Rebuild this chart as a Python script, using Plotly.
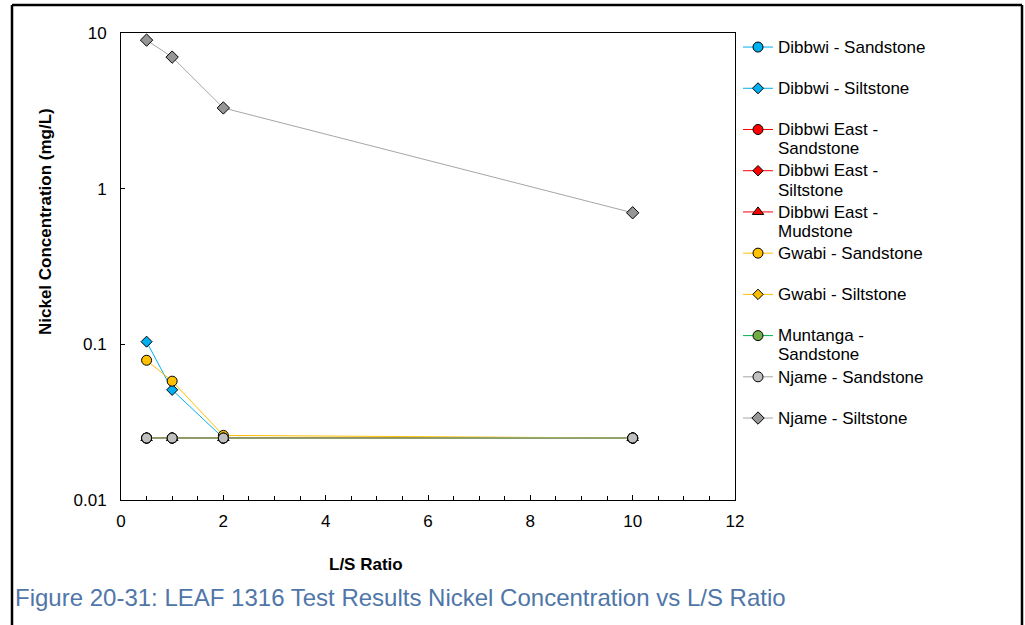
import plotly.graph_objects as go

# L/S ratios tested
ls_ratio = [0.5, 1, 2, 10]

# Nickel concentration (mg/L) per sample series
series_names = [
    "Dibbwi - Sandstone",
    "Dibbwi - Siltstone",
    "Dibbwi East - Sandstone",
    "Dibbwi East - Siltstone",
    "Dibbwi East - Mudstone",
    "Gwabi - Sandstone",
    "Gwabi - Siltstone",
    "Muntanga - Sandstone",
    "Njame - Sandstone",
    "Njame - Siltstone",
]
dibbwi_sandstone = [0.025, 0.025, 0.025, 0.025]
dibbwi_siltstone = [0.104, 0.051, 0.025, 0.025]
dibbwi_east_sandstone = [0.025, 0.025, 0.025, 0.025]
dibbwi_east_siltstone = [0.025, 0.025, 0.025, 0.025]
dibbwi_east_mudstone = [0.025, 0.025, 0.025, 0.025]
gwabi_sandstone = [0.079, 0.058, 0.026, 0.025]
gwabi_siltstone = [0.025, 0.025, 0.025, 0.025]
muntanga_sandstone = [0.025, 0.025, 0.025, 0.025]
njame_sandstone = [0.025, 0.025, 0.025, 0.025]
njame_siltstone = [9.0, 7.0, 3.3, 0.70]

# Legend labels (wrapped as in the original legend)
legend_lines = [
    ["Dibbwi - Sandstone"],
    ["Dibbwi - Siltstone"],
    ["Dibbwi East -", "Sandstone"],
    ["Dibbwi East -", "Siltstone"],
    ["Dibbwi East -", "Mudstone"],
    ["Gwabi - Sandstone"],
    ["Gwabi - Siltstone"],
    ["Muntanga -", "Sandstone"],
    ["Njame - Sandstone"],
    ["Njame - Siltstone"],
]

x_ticks = [0, 2, 4, 6, 8, 10, 12]
y_ticks = [0.01, 0.1, 1, 10]
y_tick_labels = ["0.01", "0.1", "1", "10"]

values = [
    dibbwi_sandstone, dibbwi_siltstone, dibbwi_east_sandstone,
    dibbwi_east_siltstone, dibbwi_east_mudstone, gwabi_sandstone,
    gwabi_siltstone, muntanga_sandstone, njame_sandstone, njame_siltstone,
]
styles = [
    dict(line="#00B0F0", fill="#00B0F0", symbol="circle", size=10),
    dict(line="#00B0F0", fill="#00B0F0", symbol="diamond", size=8.5),
    dict(line="#FF0000", fill="#FF0000", symbol="circle", size=10),
    dict(line="#FF0000", fill="#FF0000", symbol="diamond", size=8),
    dict(line="#FF0000", fill="#FF0000", symbol="triangle-up", size=10),
    dict(line="#FFC000", fill="#FFC000", symbol="circle", size=10),
    dict(line="#FFC000", fill="#FFC000", symbol="diamond", size=8),
    dict(line="#00B050", fill="#70AD47", symbol="circle", size=10),
    dict(line="#A6A6A6", fill="#C0C0C0", symbol="circle", size=10),
    dict(line="#A6A6A6", fill="#969696", symbol="diamond", size=9.5),
]

FONT = "Liberation Sans, Arial, sans-serif"
TEXT_PX = 17


def legend_label(lines):
    parts = [f'<span style="font-size:{TEXT_PX}px">{t}</span>' for t in lines]
    if len(parts) == 1:
        parts.append("\u00a0")
    return "<br>".join(parts)


fig = go.Figure()
for name, lines, ys, st in zip(series_names, legend_lines, values, styles):
    fig.add_trace(go.Scatter(
        x=ls_ratio, y=ys, name=legend_label(lines),
        mode="lines+markers",
        line=dict(color=st["line"], width=1),
        marker=dict(symbol=st["symbol"], size=st["size"], color=st["fill"],
                    line=dict(color="#000000", width=1)),
    ))

W, H = 1025, 625
L, R, T, B = 121, 735, 33, 500


def px_x(px):
    return (px - L) / (R - L)


def px_y(py):
    return (B - py) / (B - T)


fig.update_layout(
    width=W, height=H,
    margin=dict(l=L, r=W - R, t=T, b=H - B, pad=0),
    paper_bgcolor="white", plot_bgcolor="white",
    font=dict(family=FONT, size=TEXT_PX, color="#000000"),
    showlegend=True,
    legend=dict(
        x=px_x(738), y=px_y(31), xanchor="left", yanchor="top",
        font=dict(family=FONT, size=14.7, color="#000000"),
        valign="top", bgcolor="rgba(0,0,0,0)", itemwidth=30,
        tracegroupgap=0, maxheight=600,
    ),
    xaxis=dict(
        range=[0, 12], tickvals=x_ticks, ticktext=[str(v) for v in x_ticks],
        showgrid=False, zeroline=False,
        showline=True, linecolor="#000000", linewidth=1, mirror=True,
        ticks="inside", ticklen=5, tickcolor="#000000",
        minor=dict(dtick=0.5, ticks="inside", ticklen=4, tickcolor="#000000"),
        ticklabelstandoff=6,
        tickfont=dict(family=FONT, size=TEXT_PX),
    ),
    yaxis=dict(
        type="log", range=[-2, 1], tickvals=y_ticks, ticktext=y_tick_labels,
        showgrid=False, zeroline=False,
        showline=True, linecolor="#000000", linewidth=1, mirror=True,
        ticks="inside", ticklen=4, tickcolor="#000000",
        ticklabelstandoff=10,
        tickfont=dict(family=FONT, size=TEXT_PX),
    ),
)

# Axis titles and figure caption
fig.add_annotation(
    text="<b>Nickel Concentration (mg/L)</b>", textangle=-90,
    xref="paper", yref="paper", x=px_x(46), y=px_y(222),
    xanchor="center", yanchor="middle",
    showarrow=False, font=dict(family=FONT, size=TEXT_PX, color="#000000"),
)
fig.add_annotation(
    text="<b>L/S Ratio</b>",
    xref="paper", yref="paper", x=px_x(366), y=px_y(564),
    xanchor="center", yanchor="middle",
    showarrow=False, font=dict(family=FONT, size=TEXT_PX, color="#000000"),
)
fig.add_annotation(
    text="Figure 20-31: LEAF 1316 Test Results Nickel Concentration vs L/S Ratio",
    xref="paper", yref="paper", x=px_x(13), y=px_y(597),
    xanchor="left", yanchor="middle", showarrow=False,
    font=dict(family=FONT, size=24, color="#4F76A8"),
)

# Outer frame lines
frame = dict(color="#000000", width=2.5)
fig.add_shape(type="line", xref="paper", yref="paper",
              x0=px_x(12), x1=px_x(1022), y0=px_y(5), y1=px_y(5), line=frame)
fig.add_shape(type="line", xref="paper", yref="paper",
              x0=px_x(12), x1=px_x(12), y0=px_y(5), y1=px_y(630), line=frame)
fig.add_shape(type="line", xref="paper", yref="paper",
              x0=px_x(1022), x1=px_x(1022), y0=px_y(5), y1=px_y(630), line=frame)

fig.write_html("out.html")
